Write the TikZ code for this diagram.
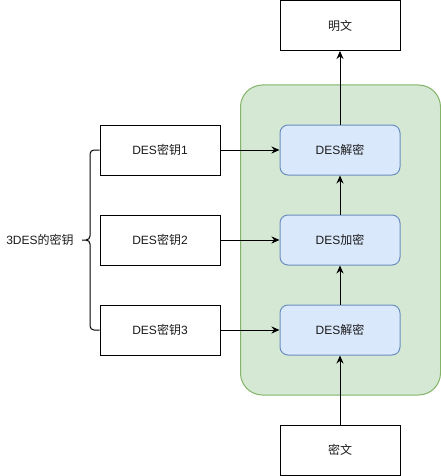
\documentclass[tikz,border=0pt]{standalone}
\usepackage{fontspec}
\setmainfont{Liberation Sans}
\newfontfamily\cjk{Noto Sans CJK SC}
\usetikzlibrary{arrows.meta}
\definecolor{grfill}{HTML}{D5E8D4}
\definecolor{grline}{HTML}{82B366}
\definecolor{blfill}{HTML}{DAE8FC}
\definecolor{blline}{HTML}{6C8EBF}
\definecolor{txt}{HTML}{1A1A1A}
\tikzset{
  plainbox/.style={draw=black, line width=1pt, fill=white, minimum width=120pt, minimum height=50pt, inner sep=0pt, font=\fontsize{12pt}{14pt}\selectfont, text=txt},
  desbox/.style={draw=blline, line width=1pt, fill=blfill, rounded corners=8pt, minimum width=120pt, minimum height=50pt, inner sep=0pt, font=\fontsize{12pt}{14pt}\selectfont, text=txt},
  conn/.style={line width=1pt, -{Stealth[length=8pt,width=7pt]}},
}
\begin{document}
\begin{tikzpicture}[x=1pt,y=-1pt]
\useasboundingbox (0,0) rectangle (441,476);
% container
\node[draw=grline, fill=grfill, line width=1pt, rounded corners=22pt, minimum width=200pt, minimum height=310pt, inner sep=0pt] (grp) at (340.5,240) {};
% boxes
\node[plainbox] (pt) at (340,25.5) {{\cjk 明文}};
\node[desbox] (d1) at (340,150) {DES{\cjk 解密}};
\node[desbox] (e2) at (340,240) {DES{\cjk 加密}};
\node[desbox] (d3) at (340,330) {DES{\cjk 解密}};
\node[plainbox] (ct) at (340,450) {{\cjk 密文}};
\node[plainbox] (k1) at (160,150) {DES{\cjk 密钥}1};
\node[plainbox] (k2) at (160,240) {DES{\cjk 密钥}2};
\node[plainbox] (k3) at (160,330) {DES{\cjk 密钥}3};
\node[font=\fontsize{12pt}{14pt}\selectfont, text=txt, inner sep=0pt] (lbl) at (40,240) {3DES{\cjk 的密钥}};
% brace
\coordinate (bt) at (k1.west);
\coordinate (bb) at (k3.west);
\coordinate (tip) at (82,240);
\draw[line width=1pt] (bt) -- (94,150) to[out=180,in=90] (90,154) -- (90,236)
  to[out=-90,in=0] (86,240) -- (tip);
\draw[line width=1pt] (86,240) to[out=0,in=90] (90,244) -- (90,326)
  to[out=-90,in=180] (94,330) -- (bb);
% connectors
\draw[conn] (k1) -- (d1);
\draw[conn] (k2) -- (e2);
\draw[conn] (k3) -- (d3);
\draw[conn] (ct) -- (d3);
\draw[conn] (d3) -- (e2);
\draw[conn] (e2) -- (d1);
\draw[conn] (d1) -- (pt);
\end{tikzpicture}
\end{document}
